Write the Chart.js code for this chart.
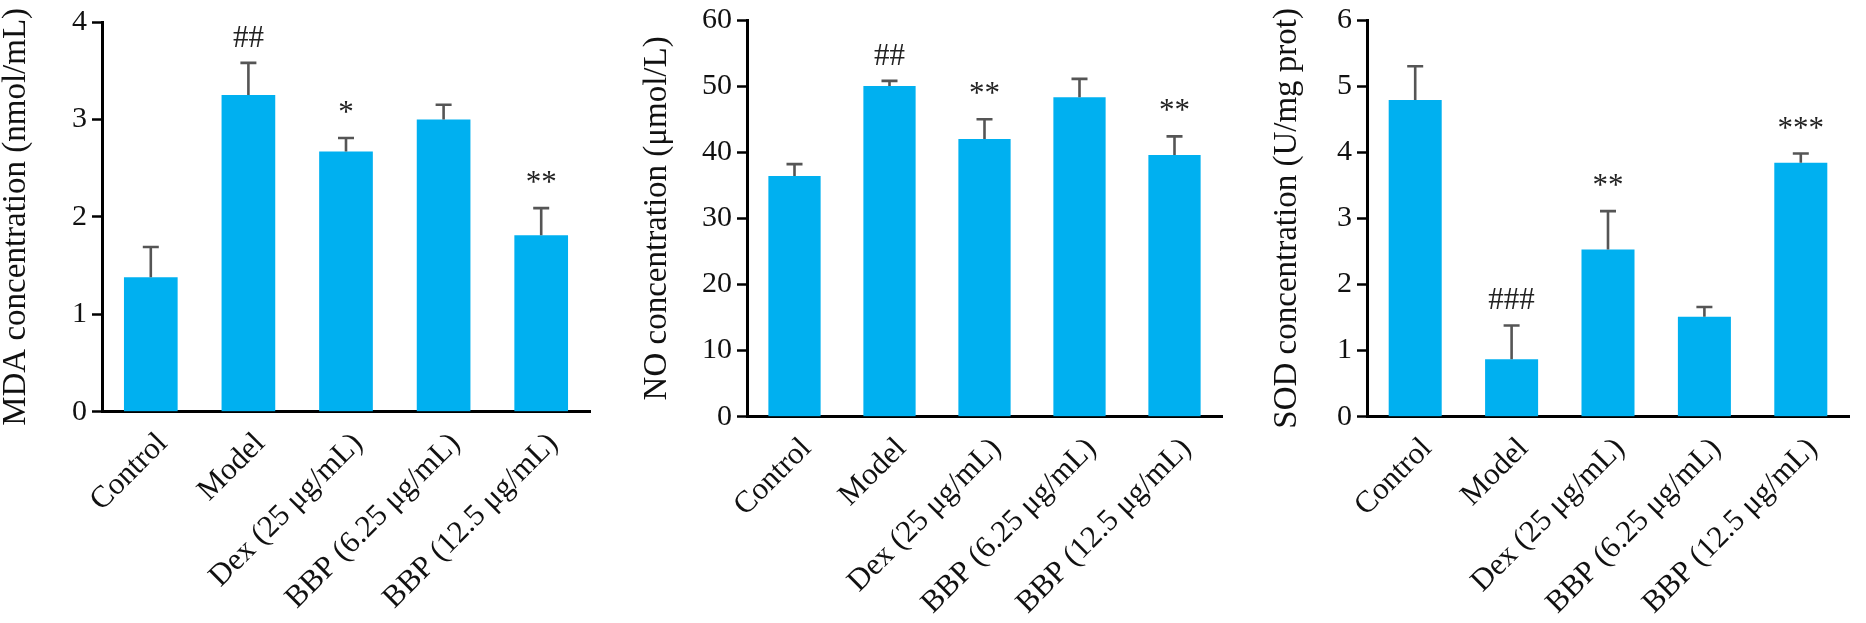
<!DOCTYPE html>
<html>
<head>
<meta charset="utf-8">
<script src="https://cdn.jsdelivr.net/npm/chart.js@4.4.1/dist/chart.umd.min.js"></script>
<style>
  html, body { margin: 0; padding: 0; background: #fff; }
  #wrap { position: relative; width: 1866px; height: 623px; overflow: hidden; }
  canvas { position: absolute; top: 0; }
</style>
</head>
<body>
<div id="wrap">
  <canvas id="mda" width="620" height="623" style="left:0px"></canvas>
  <canvas id="no" width="620" height="623" style="left:620px"></canvas>
  <canvas id="sod" width="626" height="623" style="left:1240px"></canvas>
</div>
<script>
// groups on the x axis (same for all three panels)
const groups = ['Control', 'Model', 'Dex (25 μg/mL)', 'BBP (6.25 μg/mL)', 'BBP (12.5 μg/mL)'];

// MDA panel
const mdaMean = [1.38, 3.25, 2.67, 3.00, 1.81];
const mdaSD = [0.31, 0.33, 0.14, 0.15, 0.28];
const mdaSig = ['', '##', '*', '', '**'];
const mdaTicks = [0, 1, 2, 3, 4];

// NO panel
const noMean = [36.4, 50.0, 42.0, 48.3, 39.6];
const noSD = [1.8, 0.8, 3.0, 2.8, 2.8];
const noSig = ['', '##', '**', '', '**'];
const noTicks = [0, 10, 20, 30, 40, 50, 60];

// SOD panel
const sodMean = [4.79, 0.87, 2.53, 1.51, 3.84];
const sodSD = [0.51, 0.51, 0.58, 0.15, 0.14];
const sodSig = ['', '###', '**', '', '***'];
const sodTicks = [0, 1, 2, 3, 4, 5, 6];

const FONT = "'Liberation Serif', 'Times New Roman', serif";
const BAR_COLOR = '#00B0F0';

// draws the upper error bar and the significance marks above each bar
const errorBarPlugin = {
    id: 'errorBars',
    afterDatasetsDraw(chart, args, opts) {
        const ctx = chart.ctx;
        const x = chart.scales.x;
        const y = chart.scales.y;
        const means = chart.data.datasets[0].data;
        ctx.save();
        means.forEach((m, i) => {
            const cx = x.getPixelForValue(i);
            const yTop = y.getPixelForValue(m);
            const yErr = y.getPixelForValue(m + opts.sd[i]);
            ctx.strokeStyle = '#555';
            ctx.lineWidth = 2.6;
            ctx.beginPath();
            ctx.moveTo(cx, yTop);
            ctx.lineTo(cx, yErr);
            ctx.moveTo(cx - 8, yErr);
            ctx.lineTo(cx + 8, yErr);
            ctx.stroke();

            if (opts.sig[i]) {
                ctx.fillStyle = '#222';
                ctx.font = '31px ' + FONT;
                ctx.textAlign = 'center';
                ctx.textBaseline = 'alphabetic';
                ctx.fillText(opts.sig[i], cx, yErr - 16);
            }
        });
        ctx.restore();
    }
};

function makePanel(id, means, sd, sig, ticks, title, area, titlePad) {
    const canvas = document.getElementById(id);
    const W = canvas.width, H = canvas.height;
    return new Chart(canvas, {
        type: 'bar',
        data: {
            labels: groups,
            datasets: [{
                data: means,
                backgroundColor: BAR_COLOR,
                borderWidth: 0,
                categoryPercentage: 1.0,
                barPercentage: 0.55
            }]
        },
        options: {
            responsive: false,
            animation: false,
            devicePixelRatio: 1,
            layout: { padding: { top: area.t, right: W - area.r, left: 0, bottom: 0 } },
            plugins: {
                legend: { display: false },
                tooltip: { enabled: false },
                errorBars: { sd: sd, sig: sig }
            },
            scales: {
                x: {
                    grid: { display: false, drawTicks: false },
                    border: { display: true, color: '#000', width: 3 },
                    ticks: {
                        autoSkip: false,
                        maxRotation: 45,
                        minRotation: 45,
                        labelOffset: 12,
                        padding: 14,
                        color: '#111',
                        font: { family: FONT, size: 31 }
                    },
                    afterFit(scale) { scale.height = H - area.b; }
                },
                y: {
                    min: ticks[0],
                    max: ticks[ticks.length - 1],
                    afterBuildTicks(scale) { scale.ticks = ticks.map(v => ({ value: v })); },
                    grid: { drawOnChartArea: false, drawTicks: true, tickLength: 10, tickWidth: 2.5, tickColor: '#000' },
                    border: { display: true, color: '#000', width: 3 },
                    ticks: {
                        padding: 5,
                        color: '#111',
                        font: { family: FONT, size: 30, lineHeight: 1 }
                    },
                    title: {
                        display: true,
                        text: title,
                        color: '#111',
                        padding: { top: titlePad, bottom: 0 },
                        font: { family: FONT, size: 33, lineHeight: 1 }
                    },
                    afterFit(scale) { scale.width = area.l; }
                }
            }
        },
        plugins: [errorBarPlugin]
    });
}

makePanel('mda', mdaMean, mdaSD, mdaSig, mdaTicks, 'MDA concentration (nmol/mL)',
    { l: 102, r: 590, t: 22, b: 411.7 }, 0);
makePanel('no', noMean, noSD, noSig, noTicks, 'NO concentration (μmol/L)',
    { l: 127, r: 602, t: 15, b: 416.7 }, 21);
makePanel('sod', sodMean, sodSD, sodSig, sodTicks, 'SOD concentration (U/mg prot)',
    { l: 127, r: 609, t: 16, b: 416.7 }, 31);
</script>
</body>
</html>
